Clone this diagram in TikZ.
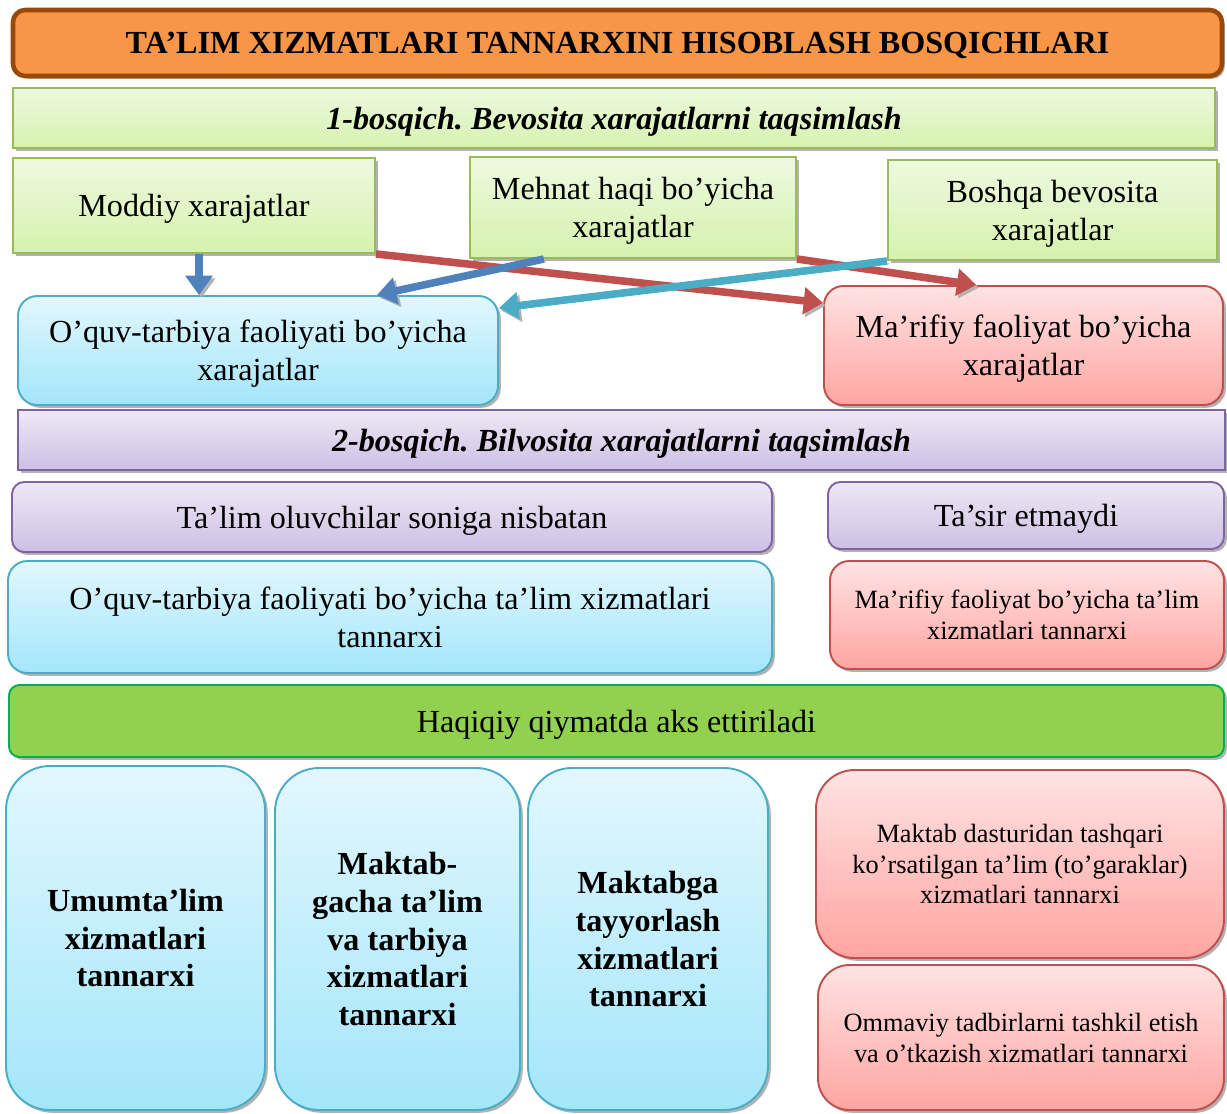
\documentclass[tikz,border=0pt]{standalone}
\usepackage{fontspec}
\setmainfont{Liberation Serif}
\usepackage{xcolor}
\definecolor{cOrange}{HTML}{F79646}
\definecolor{cBrown}{HTML}{984807}
\definecolor{cLeafTop}{HTML}{EEF9E0}
\definecolor{cLeafBot}{HTML}{D5F2AE}
\definecolor{cLeaf}{HTML}{9BBB59}
\definecolor{cSkyTop}{HTML}{E2F7FE}
\definecolor{cSkyBot}{HTML}{A3E6FA}
\definecolor{cSky}{HTML}{4BACC6}
\definecolor{cRoseTop}{HTML}{FFE3E3}
\definecolor{cRoseBot}{HTML}{FFA5A2}
\definecolor{cRose}{HTML}{C0504D}
\definecolor{cLilacTop}{HTML}{EEE8F5}
\definecolor{cLilacBot}{HTML}{CEBFE4}
\definecolor{cLilac}{HTML}{8064A2}
\definecolor{cGrass}{HTML}{92D050}
\definecolor{cGrassLine}{HTML}{00B050}
\definecolor{cBlue}{HTML}{4F81BD}
\newcommand\bigsize{\fontsize{18.3}{21.5}\selectfont\frenchspacing}
\newcommand\smallsize{\fontsize{15}{17.5}\selectfont}
\usepackage{tikz}
\usetikzlibrary{arrows.meta,shadows,calc}
\tikzset{
  box-size/.style 2 args={minimum width=#1*0.02cm,minimum height=#2*0.02cm},
  node-base/.style={line width=1.1pt,inner sep=2pt,align=center,text depth=0pt,
    drop shadow={shadow xshift=1.6pt,shadow yshift=-1.6pt,fill=black!60,opacity=.5}},
  node-title/.style={node-base,draw=cBrown,fill=cOrange,line width=2.6pt,
    rounded corners=7pt,font=\bigsize\bfseries},
  node-stage/.style={font=\bigsize\bfseries\itshape},
  node-bold/.style={font=\bigsize\bfseries},
  node-leaf/.style={node-base,draw=cLeaf,top color=cLeafTop,bottom color=cLeafBot},
  node-sky/.style={node-base,draw=cSky,top color=cSkyTop,bottom color=cSkyBot},
  node-rose/.style={node-base,draw=cRose,top color=cRoseTop,bottom color=cRoseBot},
  node-lilac/.style={node-base,draw=cLilac,top color=cLilacTop,bottom color=cLilacBot},
  node-grass/.style={node-base,draw=cGrassLine,fill=cGrass,rounded corners=6pt},
  text-small/.style={font=\smallsize},
  % kalin ko'rsatkichlar: soya bilan
  arrow-base/.style={line width=4.3pt,-{Triangle[length=11pt,width=15pt]},
    preaction={draw=black!30,transform canvas={shift={(1.5pt,-1.5pt)}}}},
  arrow-blue/.style={arrow-base,draw=cBlue},
  arrow-red/.style={arrow-base,draw=cRose},
  arrow-teal/.style={arrow-base,draw=cSky},
}
\begin{document}
\begin{tikzpicture}[x=0.02cm,y=-0.02cm,font=\bigsize]
  \useasboundingbox (0,0) rectangle (1227,1113);
  \node[node-title,box-size={1209}{66}] (title) at (617.5,43)
    {TA’LIM XIZMATLARI TANNARXINI HISOBLASH BOSQICHLARI};
  % 1-bosqich
  \node[node-leaf,node-stage,box-size={1202}{60}] (stage1) at (614,118)
    {1-bosqich. Bevosita xarajatlarni taqsimlash};
  \node[node-leaf,box-size={362}{95}] (moddiy) at (194,205.5) {Moddiy xarajatlar};
  \node[node-leaf,box-size={326}{101}] (mehnat) at (633,207.5) {Mehnat haqi bo’yicha\\xarajatlar};
  \node[node-leaf,box-size={329}{100}] (boshqa) at (1052.5,210) {Boshqa bevosita\\xarajatlar};
  \node[node-sky,rounded corners=11pt,box-size={480}{109}] (oquv) at (258,350.5)
    {O’quv-tarbiya faoliyati bo’yicha\\xarajatlar};
  \node[node-rose,rounded corners=11pt,box-size={399}{119}] (marifiy) at (1023.5,345.5)
    {Ma’rifiy faoliyat bo’yicha\\xarajatlar};
  % 2-bosqich
  \node[node-lilac,node-stage,box-size={1207}{60}] (stage2) at (621.5,440)
    {2-bosqich. Bilvosita xarajatlarni taqsimlash};
  \node[node-lilac,rounded corners=7pt,box-size={760}{70}] (oluvchi) at (392,517)
    {Ta’lim oluvchilar soniga nisbatan};
  \node[node-lilac,rounded corners=7pt,box-size={396}{67}] (tasir) at (1026,515.5) {Ta’sir etmaydi};
  \node[node-sky,rounded corners=11pt,box-size={764}{112}] (oquvT) at (390,617)
    {O’quv-tarbiya faoliyati bo’yicha ta’lim xizmatlari\\tannarxi};
  \node[node-rose,text-small,rounded corners=11pt,box-size={394}{108}] (marifiyT) at (1027,615)
    {Ma’rifiy faoliyat bo’yicha ta’lim\\xizmatlari tannarxi};
  \node[node-grass,box-size={1215}{72}] (haqiqiy) at (616.5,721) {Haqiqiy qiymatda aks ettiriladi};
  % turlari
  \node[node-sky,node-bold,rounded corners=25pt,box-size={259}{344}] (umum) at (135.5,938)
    {Umumta’lim\\xizmatlari\\tannarxi};
  \node[node-sky,node-bold,rounded corners=25pt,box-size={245}{342}] (mgacha) at (397.5,939)
    {Maktab-\\gacha ta’lim\\va tarbiya\\xizmatlari\\tannarxi};
  \node[node-sky,node-bold,rounded corners=25pt,box-size={240}{342}] (mtayyor) at (648,939)
    {Maktabga\\tayyorlash\\xizmatlari\\tannarxi};
  \node[node-rose,text-small,rounded corners=22pt,box-size={408}{188}] (dastur) at (1020,864)
    {Maktab dasturidan tashqari\\ko’rsatilgan ta’lim (to’garaklar)\\xizmatlari tannarxi};
  \node[node-rose,text-small,rounded corners=18pt,box-size={406}{145}] (ommaviy) at (1021,1037.5)
    {Ommaviy tadbirlarni tashkil etish\\va o’tkazish xizmatlari tannarxi};
  % ko'rsatkichlar
  \draw[arrow-blue] ([xshift=0.1cm]moddiy.south) -- ([xshift=0.1cm]moddiy.south |- oquv.north);
  \draw[arrow-red] (moddiy.south east) -- (marifiy.168);
  \draw[arrow-blue] (mehnat.210) -- (oquv.25);
  \draw[arrow-red] (mehnat.south east) -- (marifiy.128);
  \draw[arrow-teal] (boshqa.south west) -- (oquv.10);
\end{tikzpicture}
\end{document}
